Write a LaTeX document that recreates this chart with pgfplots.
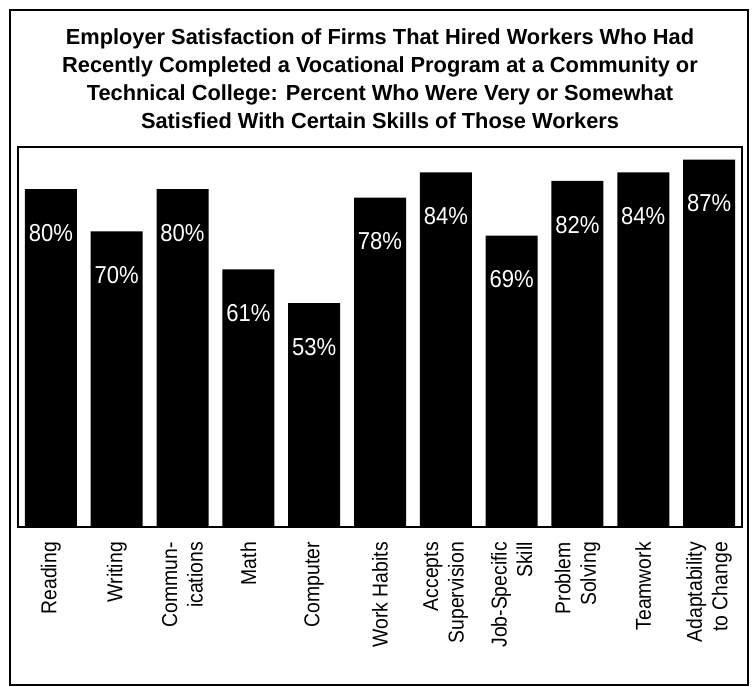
\documentclass[border=0pt]{standalone}
\usepackage{pgfplots}
\pgfplotsset{compat=1.18}
\usepackage{fontspec}
\setmainfont{Liberation Sans}
\newfontfamily\narrowfont[FakeStretch=0.9]{Liberation Sans}
\begin{document}
\begin{tikzpicture}
\begin{axis}[
  scale only axis,
  width=724bp, height=380bp,
  xmin=-0.5, xmax=10.5,
  ymin=0, ymax=90,
  ytick=\empty,
  xtick=data,
  xticklabels={Reading, Writing, {Commun-\\ications}, Math, Computer, Work Habits, {Accepts\\Supervision}, {Job-Specific\\Skill}, {Problem\\Solving}, Teamwork, {Adaptability\\to Change}},
  major tick length=0pt,
  xticklabel shift=15bp,
  xticklabel style={rotate=90, anchor=east, align=right, inner sep=0pt,
    font=\narrowfont\fontsize{21.5bp}{25.5bp}\selectfont},
  axis line style={line width=1.8bp},
  clip=false,
  ybar,
  bar width=0.79,
  /pgf/number format/assume math mode=true,
  nodes near coords={\pgfmathprintnumber{\pgfplotspointmeta}\%},
  every node near coord/.append style={white, anchor=north, yshift=-35bp, inner sep=0pt,
    font=\narrowfont\fontsize{24.5bp}{29bp}\selectfont},
]
\addplot[fill=black, draw=none] coordinates {
  (0,80) (1,70) (2,80) (3,61) (4,53) (5,78) (6,84) (7,69) (8,82) (9,84) (10,87)
};
\node[anchor=north, align=center, inner sep=0pt,
  font=\bfseries\fontsize{21.8bp}{28.3bp}\selectfont]
  at (rel axis cs:0.5,1.313) {Employer Satisfaction of Firms That Hired Workers Who Had\\
  Recently Completed a Vocational Program at a Community or\\
  Technical College: Percent Who Were Very or Somewhat\\
  Satisfied With Certain Skills of Those Workers};
\draw[line width=1.8bp] (rel axis cs:-0.011,-0.4158) rectangle (rel axis cs:1.0083,1.3605);
\coordinate (bbsw) at (rel axis cs:-0.02486,-0.42105);
\coordinate (bbne) at (rel axis cs:1.01381,1.38684);
\end{axis}
\pgfresetboundingbox
\path (bbsw) rectangle (bbne);
\end{tikzpicture}
\end{document}
